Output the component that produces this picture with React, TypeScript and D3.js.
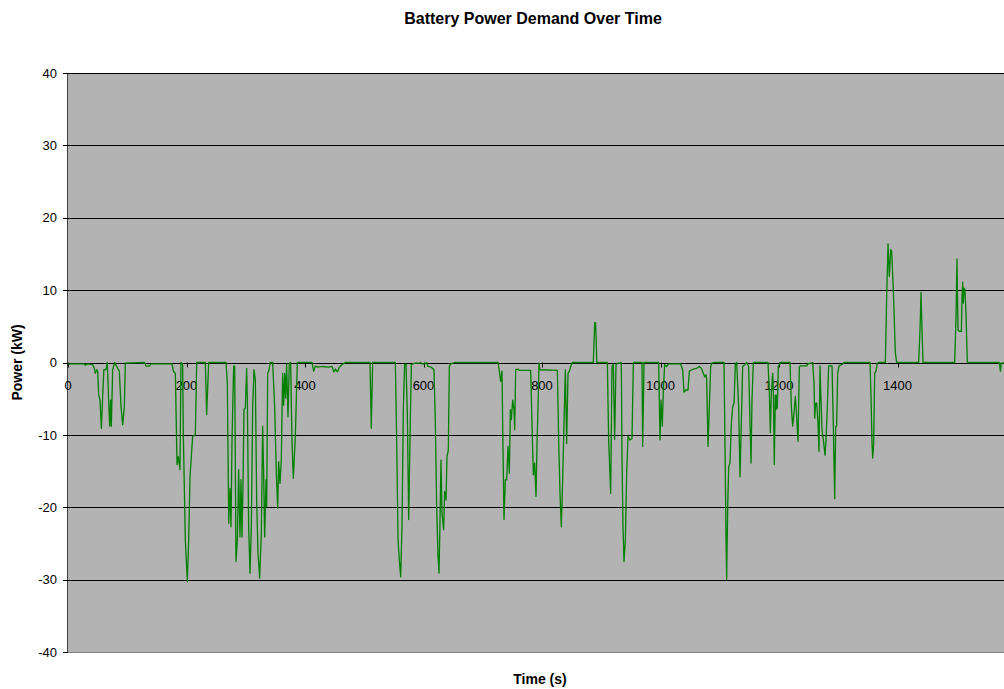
import React from "react";
import * as d3 from "d3";

// Time (s) / Power (kW) vertices, by section
const section0to270: [number, number][] = [
  [0, -0.2], [27.6, -0.2], [29.3, -0.4], [31.5, -0.2], [41.6, -0.3], [44.4, -0.8], [46.1, -1.5],
  [48.4, -1.0], [50.1, -1.2], [51.8, -4.5], [54.0, -5.2], [56.3, -9.1], [58.5, -4.7], [60.5, -1.0],
  [64.1, -1.0], [66.4, 0], [68.6, -5.2], [70.3, -8.8], [72.0, -5.2], [73.1, -8.8], [75.4, -1.0],
  [78.8, 0], [83.8, -0.8], [86.6, -1.2], [89.5, -6.1], [92.3, -8.6], [95.1, -6.1], [96.8, -0.1],
  [129.4, 0], [131.6, -0.5], [137.3, -0.5], [140.1, -0.2], [175.5, -0.2], [177.8, -1.2], [181.2, -1.5],
  [184.0, -14.1], [186.2, -13.0], [189.0, -14.8], [190.7, 0], [193.5, -0.3], [194.7, -10.2],
  [198.0, -24.5], [201.4, -30.3], [203.7, -24.5], [205.9, -15.8], [210.4, -10.2], [214.9, -10.0],
  [217.2, 0], [231.8, 0], [234.0, -7.2], [237.4, 0], [266.7, 0],
];
const section270to530: [number, number][] = [
  [268.9, -2.9], [271.2, -22.2], [273.4, -17.4], [275.1, -22.7], [276.8, -10.7], [279.6, -0.5],
  [281.3, -0.5], [283.5, -27.5], [285.8, -24.5], [288.0, -14.8], [290.3, -24.1], [292.0, -16.2],
  [293.7, -24.1], [295.3, -17.1], [297.0, -6.5], [299.3, -6.3], [301.5, -0.8], [302.7, -5.2],
  [304.9, -22.7], [307.2, -29.1], [309.4, -22.7], [311.7, -6.1], [313.9, -1.0], [316.2, -2.4],
  [318.4, -19.0], [320.7, -26.4], [323.5, -29.8], [326.3, -23.6], [328.5, -8.8], [330.2, -15.3],
  [331.9, -24.1], [334.2, -16.2], [335.3, -19.9], [337.0, -1.5], [338.7, -1.2], [341.5, 0],
  [345.4, 0], [348.8, -6.1], [351.6, -15.3], [353.9, -20.1], [355.5, -13.7], [357.8, -16.7],
  [360.0, -13.5], [362.3, -1.5], [364.0, -5.9], [365.7, -1.5], [367.4, -4.9], [369.0, -0.2],
  [371.3, -7.5], [373.5, -0.1], [375.8, 0], [378.0, -10.7], [380.3, -16.0], [383.7, -10.2],
  [387.0, 0], [411.8, 0], [414.6, -1.2], [417.4, -0.5], [421.9, -0.65], [428.7, -0.55],
  [439.9, -0.65], [445.6, -0.55], [448.9, -1.3], [451.2, -0.9], [454.6, -1.3], [457.9, -0.65],
  [462.4, -0.3], [468.1, 0], [509.7, 0], [511.9, -9.1], [514.2, 0], [552.5, 0],
];
const section530to800: [number, number][] = [
  [554.7, -10.7], [557.0, -24.5], [559.2, -27.3], [561.5, -29.6], [563.7, -22.7], [566.0, -6.1],
  [568.2, -0.3], [570.5, -0.2], [572.7, -7.0], [575.0, -21.7], [577.2, -10.7], [579.5, -0.3],
  [581.7, -0.2], [586.2, -0.1], [593.0, -0.1], [595.2, 0], [597.5, -0.2], [602.0, -0.2], [605.3, 0],
  [607.6, -0.55], [613.2, -0.65], [617.7, -1.0], [620.0, -8.4], [622.2, -19.9], [624.5, -26.8],
  [626.2, -29.1], [627.8, -22.2], [629.5, -13.5], [631.2, -20.8], [634.0, -23.1], [635.7, -17.8],
  [638.0, -19.0], [639.7, -13.0], [641.9, -12.1], [643.6, -0.55], [645.8, -0.2], [652.6, 0],
  [725.7, 0], [728.0, -1.2], [730.2, -2.6], [732.5, -1.2], [734.2, -12.1], [735.9, -21.7],
  [738.1, -16.2], [740.4, -16.2], [742.6, -11.6], [744.9, -15.3], [746.6, -6.5], [748.2, -7.9],
  [750.5, -5.2], [752.7, -6.5], [753.9, -9.3], [755.6, -1.0], [759.5, -0.9], [761.7, -1.1],
  [780.9, -1.1], [783.1, -8.4], [785.4, -15.5], [787.6, -13.9], [789.9, -18.5], [791.6, -11.2],
  [793.3, -6.1], [795.0, -0.1], [796.6, -1.0], [825.9, -1.1],
];
const section800to1050: [number, number][] = [
  [828.1, -10.7], [830.4, -18.1], [832.6, -22.7], [834.9, -16.2], [837.1, -8.4], [839.4, -1.0],
  [840.5, -6.1], [841.6, -11.2], [843.9, -1.5], [846.1, -1.2], [848.4, -0.55], [851.2, 0],
  [886.6, 0], [888.9, 5.5], [890.5, 5.5], [892.5, 0], [910.3, 0], [912.5, -10.7], [915.9, -18.1],
  [918.1, -0.55], [920.4, -0.2], [922.6, -10.6], [924.9, -0.3], [927.2, -0.1], [931.7, -0.1],
  [933.9, 0], [935.0, -13.0], [936.7, -22.7], [938.4, -27.5], [940.7, -24.5], [942.9, -15.3],
  [945.2, -10.2], [948.5, -10.7], [951.9, -10.5], [954.2, 0], [968.8, 0], [969.9, -11.6],
  [972.2, 0], [996.9, 0], [999.2, -10.7], [1000.9, -5.2], [1003.1, -8.8], [1004.8, -3.8],
  [1007.0, -0.3], [1010.4, -0.55], [1013.8, -0.2], [1034.0, -0.2], [1037.4, -1.0], [1039.7, -4.1],
  [1043.0, -3.8], [1046.4, -3.8], [1048.7, -1.2],
];
const section1050to1320: [number, number][] = [
  [1055.4, -0.9], [1061.1, -0.8], [1065.6, -0.55], [1068.9, -0.8], [1072.3, -1.5], [1074.6, -2.0],
  [1076.8, -1.7], [1077.9, -2.2], [1080.2, -11.6], [1082.4, -6.1], [1084.7, -0.55], [1086.9, -0.1],
  [1090.3, 0], [1107.2, 0], [1109.4, -15.3], [1110.6, -24.5], [1111.7, -30.0], [1113.4, -19.9],
  [1115.1, -14.4], [1117.3, -13.9], [1119.6, -8.4], [1121.8, -6.1], [1124.1, -5.6], [1126.3, -0.3],
  [1128.6, 0], [1131.9, -6.1], [1134.2, -15.8], [1136.4, -8.4], [1138.7, -0.55], [1142.1, -0.3],
  [1145.4, 0], [1148.8, -0.55], [1151.1, -8.4], [1152.8, -13.9], [1154.4, -5.2], [1156.7, 0],
  [1181.4, 0], [1183.7, -4.2], [1185.4, -9.7], [1187.1, -4.2], [1189.3, -1.5], [1190.5, -3.8],
  [1192.1, -14.1], [1193.8, -4.5], [1195.0, -6.5], [1196.1, -4.5], [1197.2, -6.3], [1198.9, -0.55],
  [1200.6, -0.3], [1202.8, 0], [1218.6, 0], [1220.8, -6.1], [1223.1, -8.8], [1225.3, -7.0],
  [1227.6, -4.7], [1229.8, -7.5], [1232.1, -10.9], [1234.3, -0.55], [1236.6, -0.46], [1246.7, -0.46],
  [1249.0, -0.2], [1256.8, 0], [1259.1, -2.9], [1260.2, -7.7], [1261.9, -5.6], [1263.6, -5.6],
  [1265.8, -8.4], [1267.5, -12.3], [1269.2, -0.46], [1270.3, -3.8], [1272.6, -9.3], [1274.8, -10.7],
  [1277.7, -12.8], [1279.3, -10.7], [1281.6, -6.1], [1283.8, -0.46], [1289.5, -0.46], [1291.7, -8.8],
  [1294.0, -18.8], [1295.7, -8.8], [1297.3, -8.8], [1299.0, -1.5], [1301.3, -0.46], [1305.8, -0.3],
  [1309.7, 0],
];
const section1320to1600: [number, number][] = [
  [1353.6, 0], [1355.3, -4.7], [1357.0, -11.2], [1358.1, -13.2], [1359.8, -11.2], [1361.5, -1.5],
  [1363.7, -1.2], [1366.0, -0.1], [1368.2, 0], [1379.5, 0], [1381.7, 9.1], [1384.0, 16.4],
  [1386.2, 11.9], [1388.5, 15.6], [1390.2, 15.3], [1393.0, 10.0], [1396.4, 1.3], [1398.6, 0],
  [1435.7, 0], [1438.0, 4.5], [1439.7, 9.7], [1441.4, 4.5], [1443.1, 0], [1496.5, 0],
  [1498.8, 6.4], [1500.4, 14.3], [1502.1, 4.5], [1504.4, 4.3], [1507.8, 4.3], [1508.9, 9.1],
  [1510.0, 11.1], [1511.1, 8.2], [1512.3, 10.3], [1513.9, 10.0], [1515.6, 6.8], [1517.9, 0],
  [1571.9, 0], [1573.6, -1.2], [1575.3, -0.1], [1590, 0],
];

const yTicks = [40, 30, 20, 10, 0, -10, -20, -30, -40];
const xTicks = [0, 200, 400, 600, 800, 1000, 1200, 1400];

const W = 1004;
const H = 689;
const FONT = "Arial, 'Liberation Sans', sans-serif";

export default function App() {
  const data = [
    ...section0to270,
    ...section270to530,
    ...section530to800,
    ...section800to1050,
    ...section1050to1320,
    ...section1320to1600,
  ];
  const x = d3.scaleLinear().domain([0, 1600]).range([68, 1016]);
  const y = d3.scaleLinear().domain([-40, 40]).range([652, 73]);
  const line = d3
    .line<[number, number]>()
    .x((d) => x(d[0]))
    .y((d) => y(d[1]));
  const x0 = x(0);
  const x1 = x(1600);
  const y0 = y(0);
  return (
    <div style={{ position: "fixed", left: 0, top: 0 }}>
      <svg width={W} height={H} style={{ display: "block", background: "#fff" }}>
        <defs>
          <clipPath id="plotClip">
            <rect x={x0} y={y(40)} width={x1 - x0} height={y(-40) - y(40)} />
          </clipPath>
        </defs>
        <rect x={x0} y={y(40)} width={x1 - x0} height={y(-40) - y(40)} fill="#b3b3b3" />
        {yTicks
          .filter((t) => t !== -40)
          .map((t) => (
            <line
              key={"g" + t}
              x1={x0}
              x2={x1}
              y1={Math.round(y(t)) + 0.5}
              y2={Math.round(y(t)) + 0.5}
              stroke="#000"
              strokeWidth={1}
            />
          ))}
        <line x1={x0} x2={x1} y1={Math.round(y(-40)) + 0.5} y2={Math.round(y(-40)) + 0.5} stroke="#808080" />
        <line x1={Math.round(x0) - 0.5} x2={Math.round(x0) - 0.5} y1={y(40)} y2={y(-40)} stroke="#404040" />
        {yTicks.map((t) => (
          <g key={"yt" + t}>
            <line
              x1={x0 - 5}
              x2={x0}
              y1={Math.round(y(t)) + 0.5}
              y2={Math.round(y(t)) + 0.5}
              stroke="#000"
            />
            <text
              x={57}
              y={y(t)}
              dy="0.36em"
              textAnchor="end"
              fontFamily={FONT}
              fontSize={13}
              fill="#000"
            >
              {t}
            </text>
          </g>
        ))}
        {xTicks.map((t) => (
          <g key={"xt" + t}>
            <line
              x1={Math.round(x(t)) + 0.5}
              x2={Math.round(x(t)) + 0.5}
              y1={y0}
              y2={y0 + 5}
              stroke="#000"
            />
            <text x={x(t)} y={y0 + 27} textAnchor="middle" fontFamily={FONT} fontSize={13} fill="#000">
              {t}
            </text>
          </g>
        ))}
        <path
          d={line(data) || ""}
          fill="none"
          stroke="#008000"
          strokeWidth={1.3}
          strokeLinejoin="round"
          clipPath="url(#plotClip)"
        />
        <text x={533} y={24} textAnchor="middle" fontFamily={FONT} fontSize={16} fontWeight="bold">
          Battery Power Demand Over Time
        </text>
        <text x={540} y={684} textAnchor="middle" fontFamily={FONT} fontSize={14} fontWeight="bold">
          Time (s)
        </text>
        <text
          transform={`translate(22, ${y0}) rotate(-90)`}
          textAnchor="middle"
          fontFamily={FONT}
          fontSize={14}
          fontWeight="bold"
        >
          Power (kW)
        </text>
      </svg>
    </div>
  );
}
